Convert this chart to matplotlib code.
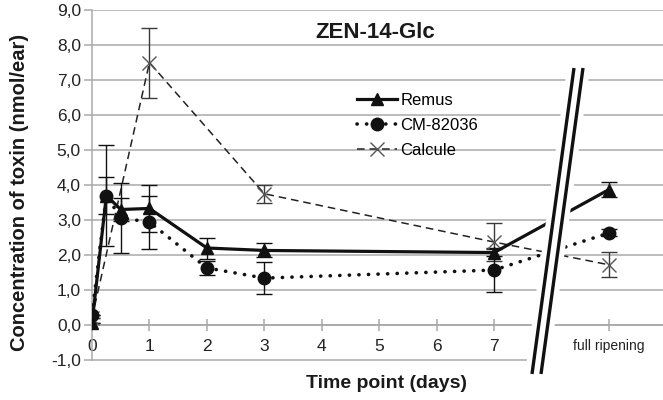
import matplotlib
matplotlib.use("Agg")
import matplotlib.pyplot as plt
from matplotlib.patches import Polygon
from matplotlib.ticker import FuncFormatter

plt.rcParams['font.family'] = ['Liberation Sans', 'DejaVu Sans']

# Sampling times (days); "full ripening" sits at position 9 on the axis
time_points = [0, 0.25, 0.5, 1, 2, 3, 7, 9]
remus = [0.05, 3.70, 3.30, 3.33, 2.20, 2.13, 2.07, 3.87]
remus_err = [0, 0.53, 0.33, 0.67, 0.30, 0.20, 0.10, 0.22]
cm82036 = [0.30, 3.70, 3.06, 2.94, 1.63, 1.34, 1.57, 2.63]
cm82036_err = [0, 1.44, 1.00, 0.76, 0.20, 0.45, 0.63, 0.10]

calcule_time = [0, 1, 3, 7, 9]
calcule = [0.20, 7.50, 3.75, 2.37, 1.72]
calcule_err = [0, 1.00, 0.25, 0.54, 0.36]

tick_pos = [0, 1, 2, 3, 4, 5, 6, 7, 8, 9]
tick_labels = ['0', '1', '2', '3', '4', '5', '6', '7', '', 'full ripening']
y_ticks = [-1, 0, 1, 2, 3, 4, 5, 6, 7, 8, 9]

W, H = 663, 400
fig = plt.figure(figsize=(W / 100, H / 100), dpi=100)
ax_l, ax_r, ax_t, ax_b = 92, 663, 10, 360
ax = fig.add_axes([ax_l / W, 1 - ax_b / H, (ax_r - ax_l) / W, (ax_b - ax_t) / H])
ax.set_xlim(0, 9.94)
ax.set_ylim(-1, 9)

grid_c = '#a9a9a9'
for y in y_ticks[1:]:
    ax.axhline(y, color=grid_c, lw=1.1, zorder=0)
ax.hlines(-1, 0, 7.7, color=grid_c, lw=1.1, zorder=0, clip_on=False)

for s in ('top', 'right'):
    ax.spines[s].set_visible(False)
ax.spines['left'].set_color(grid_c)
ax.spines['left'].set_linewidth(1.1)
ax.spines['bottom'].set_position(('data', 0))
ax.spines['bottom'].set_color(grid_c)
ax.spines['bottom'].set_linewidth(1.1)

ax.set_yticks(y_ticks)
ax.yaxis.set_major_formatter(FuncFormatter(lambda v, p: f"{v:.1f}".replace('.', ',')))
ax.tick_params(axis='y', direction='out', length=6, width=1.1, color=grid_c,
               labelsize=12.5, labelcolor='#222222', pad=2)
ax.set_xticks(tick_pos)
ax.set_xticklabels(tick_labels)
ax.tick_params(axis='x', direction='inout', length=8, width=1.1, color=grid_c,
               labelsize=12.5, labelcolor='#222222', pad=6)
for lbl in ax.get_xticklabels():
    if lbl.get_text() == 'full ripening':
        lbl.set_fontsize(10)

# Error bars
eb_kw = dict(fmt='none', elinewidth=1.0, capsize=5.5, capthick=1.0, zorder=2)
ax.errorbar(calcule_time, calcule, yerr=calcule_err, ecolor='#3a3a3a', **eb_kw)
ax.errorbar(time_points, remus, yerr=remus_err, ecolor='#111111', **eb_kw)
ax.errorbar(time_points, cm82036, yerr=cm82036_err, ecolor='#111111', **eb_kw)

# Series
l_calc, = ax.plot(calcule_time, calcule, color='#222222', lw=1.1,
                  linestyle=(0, (5, 3.2)), marker='x', markersize=10,
                  markeredgewidth=1.0, markeredgecolor='#555555', zorder=3,
                  label='Calcule')
l_remus, = ax.plot(time_points, remus, color='#111111', lw=2.3, marker='^',
                   markersize=8.5, zorder=4, label='Remus')
l_cm, = ax.plot(time_points, cm82036, color='#111111', lw=2.6,
                linestyle=(0, (0.05, 2.6)), dash_capstyle='round', marker='o',
                markersize=9, zorder=4, label='CM-82036')

ax.legend(handles=[l_remus, l_cm, l_calc], loc='upper left',
          bbox_to_anchor=(357 / W, 1 - 93 / H), bbox_transform=fig.transFigure,
          frameon=False, fontsize=12, handlelength=2.4, handletextpad=0.2,
          labelspacing=0.6, borderpad=0, borderaxespad=0)

# Axis break between day 7 and full ripening
def to_ax(px, py):
    return ((px - ax_l) / (ax_r - ax_l), (ax_b - py) / (ax_b - ax_t))

band = Polygon([to_ax(567, 68), to_ax(590, 68), to_ax(548, 374), to_ax(525, 374)],
               closed=True, facecolor='white', edgecolor='none',
               transform=ax.transAxes, clip_on=False, zorder=6)
ax.add_patch(band)
for dx in (0, 9):
    (x0, y0), (x1, y1) = to_ax(574 + dx, 68), to_ax(532 + dx, 374)
    ax.plot([x0, x1], [y0, y1], color='#111111', lw=2.4, transform=ax.transAxes,
            clip_on=False, zorder=7, solid_capstyle='butt')

fig.text(375 / W, 1 - 32 / H, 'ZEN-14-Glc', ha='center', va='center',
         fontsize=16, fontweight='bold', color='#1a1a1a')
fig.text(20 / W, 1 - 192 / H, 'Concentration of toxin (nmol/ear)', ha='center',
         va='center', rotation=90, fontsize=14.5, fontweight='bold', color='#1a1a1a')
fig.text(387 / W, 1 - 384 / H, 'Time point (days)', ha='center', va='center',
         fontsize=14, fontweight='bold', color='#1a1a1a')

fig.savefig('out.png', dpi=100)
